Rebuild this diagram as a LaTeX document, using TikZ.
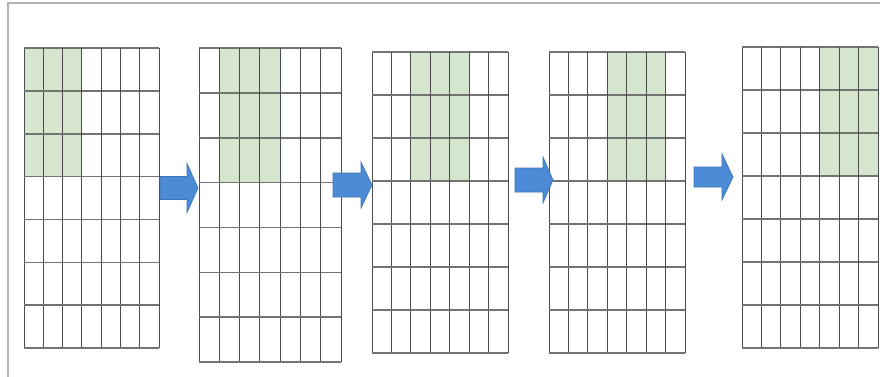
\documentclass[tikz,border=0pt]{standalone}
\usepackage{amsfonts,amsmath,amssymb}
\usepackage{tikz}

\definecolor{cellgreen}{RGB}{214,230,206}
\definecolor{arrowblue}{RGB}{77,139,214}
\definecolor{arrowedge}{RGB}{62,116,184}

\begin{document}
\begin{tikzpicture}[x=0.02cm,y=-0.02cm,
    frame/.style={draw=black!30,line width=0.9pt},
    hline/.style={draw=black!55,line width=0.9pt},
    vline/.style={draw=black!70,line width=0.5pt},
    blockarrow/.style={fill=arrowblue,draw=arrowedge,line width=0.4pt}]

    \clip (0,0) rectangle (880,376);
    \draw[frame] (8,3) rectangle (900,400);

    % the five windows, green block moving one column to the right
    \foreach \xl/\xr/\yt/\yb/\g in {24/159/48/348/0, 199/341/48/362/1, 372/508/52/353/2, 549/685/52/353/3, 742/878/47/348/4} {
        \pgfmathsetmacro{\w}{(\xr-\xl)/7}
        \pgfmathsetmacro{\h}{(\yb-\yt)/7}
        \fill[cellgreen] ({\xl+\g*\w},\yt) rectangle ({\xl+(\g+3)*\w},{\yt+3*\h});
        \foreach \i in {0,...,7} {
            \draw[vline] ({\xl+\i*\w},\yt) -- ({\xl+\i*\w},\yb);
            \draw[hline] (\xl,{\yt+\i*\h}) -- (\xr,{\yt+\i*\h});
        }
    }

    % block arrows between the windows
    \foreach \xs/\xh/\xt/\ym/\s/\hh in {160/187/198/188/11.5/24.5, 333/361/372/185/12/23, 515/543/553/180/12/23, 694/722/733/177/10/23} {
        \draw[blockarrow] (\xs,\ym-\s) -- (\xh,\ym-\s) -- (\xh,\ym-\hh) -- (\xt,\ym)
            -- (\xh,\ym+\hh) -- (\xh,\ym+\s) -- (\xs,\ym+\s) -- cycle;
    }
\end{tikzpicture}
\end{document}
